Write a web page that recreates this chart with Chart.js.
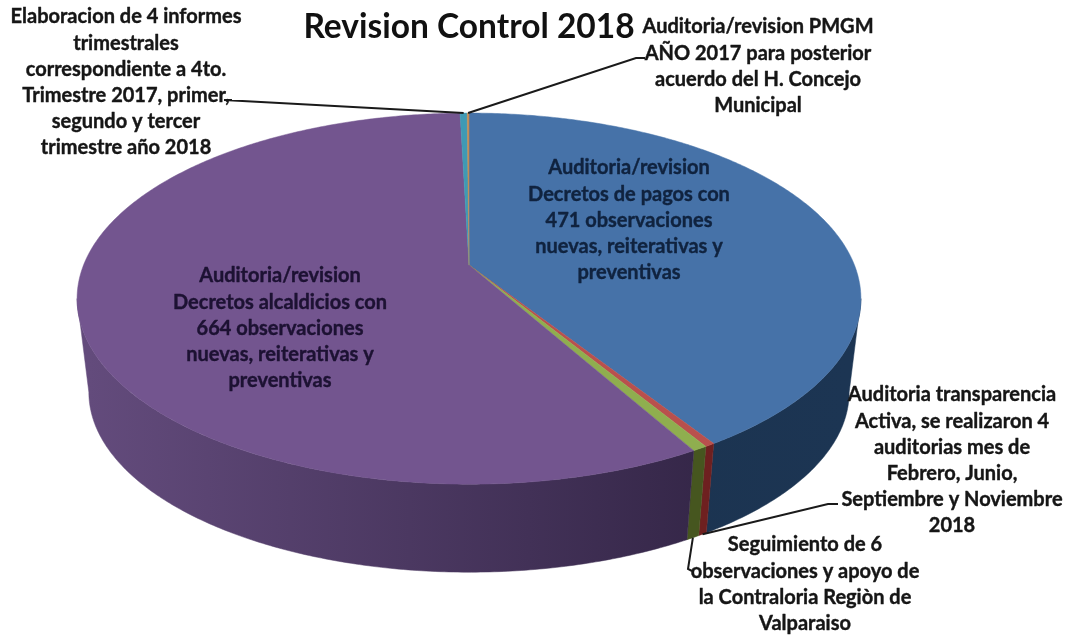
<!DOCTYPE html>
<html>
<head>
<meta charset="utf-8">
<title>Revision Control 2018</title>
<script src="https://cdn.jsdelivr.net/npm/chart.js@4"></script>
<style>
    html, body { margin: 0; padding: 0; background: #fff; }
    #wrap { position: relative; width: 1072px; height: 636px; }
</style>
</head>
<body>
<div id="wrap"><canvas id="myChart" width="1072" height="636"></canvas></div>
<script>
(function () {
    "use strict";

    var titleText = 'Revision Control 2018';
    var categories = [
        'Auditoria/revision Decretos de pagos',
        'Auditoria transparencia Activa',
        'Seguimiento de observaciones',
        'Auditoria/revision Decretos alcaldicios',
        'Elaboracion de 4 informes trimestrales',
        'Auditoria/revision PMGM'
    ];
    var values = [471, 4, 6, 664, 4, 1];
    var topColors = ['#4672a8', '#b9504d', '#8fae4f', '#73558f', '#3f9ab4', '#c28c55'];
    // side wall shade, left end then right end
    var wallColors = [
        ['#1a3049', '#1c3553'],
        ['#6e2020', '#6e2020'],
        ['#46561f', '#46561f'],
        ['#634b7c', '#2a1e3c'],
        ['#1f5a6c', '#1f5a6c'],
        ['#7a5228', '#7a5228']
    ];

    // label text, one entry per line
    var labelLines = [
        ['Auditoria/revision', 'Decretos de pagos con', '471 observaciones', 'nuevas, reiterativas y', 'preventivas'],
        ['Auditoria transparencia', 'Activa, se realizaron 4', 'auditorias mes de', 'Febrero, Junio,', 'Septiembre y Noviembre', '2018'],
        ['Seguimiento de 6', 'observaciones y apoyo de', 'la Contraloria Regiòn de', 'Valparaiso'],
        ['Auditoria/revision', 'Decretos alcaldicios con', '664 observaciones', 'nuevas, reiterativas y', 'preventivas'],
        ['Elaboracion de 4 informes', 'trimestrales', 'correspondiente a 4to.', 'Trimestre 2017, primer,', 'segundo y tercer', 'trimestre año 2018'],
        ['Auditoria/revision PMGM', 'AÑO 2017 para posterior', 'acuerdo del H. Concejo', 'Municipal']
    ];
    // centre x, first line y, text colour
    var labelPlace = [
        [629, 168, '#10233f'],
        [952, 395, '#161616'],
        [805, 545, '#161616'],
        [280, 276, '#1d1233'],
        [126, 17, '#161616'],
        [758, 27, '#161616']
    ];
    // leader elbow points: label end, elbow; null when the label sits on its slice
    var leaderPoints = [
        null,
        [[838, 504], [828, 504]],
        [[692, 571], [688, 569]],
        null,
        [[232, 100], [224, 100]],
        [[645, 58], [636, 58]]
    ];
    var leaderOnWallBottom = [false, true, true, false, false, false];

    var lineStep = 26.2;
    var labelFont = 'bold 20px Lato';

    // pie projection, tilted disc with perspective
    var stretchX = 1.769, stretchY = 0.8238, persp = 0.1806;
    var wallScale = 0.97, wallDrop = 94.6;

    function project(arc, a, isBottom) {
        var r = arc.outerRadius;
        var cx = Math.cos(a), sy = Math.sin(a);
        var w = 1 - persp * sy;
        var s = isBottom ? wallScale : 1;
        return {
            x: arc.x + s * stretchX * r * cx / w,
            y: arc.y + (isBottom ? wallDrop : 0) + s * stretchY * r * sy / w
        };
    }

    function tracePart(ctx, arc, from, to, isBottom) {
        var steps = Math.max(2, Math.ceil(Math.abs(to - from) / 0.01));
        for (var i = 0; i <= steps; i++) {
            var p = project(arc, from + (to - from) * i / steps, isBottom);
            ctx.lineTo(p.x, p.y);
        }
    }

    var piePlugin = {
        id: 'tiltedPie',
        beforeDatasetsDraw: function (chart) {
            var ctx = chart.ctx;
            var arcs = chart.getDatasetMeta(0).data;
            var lo = Math.asin(persp), hi = Math.PI - lo;

            // walls first
            arcs.forEach(function (arc, i) {
                var from = Math.max(arc.startAngle, lo), to = Math.min(arc.endAngle, hi);
                if (to <= from) { return; }
                var g = ctx.createLinearGradient(project(arc, hi, true).x, 0, project(arc, lo, true).x, 0);
                g.addColorStop(0, wallColors[i][0]);
                g.addColorStop(1, wallColors[i][1]);
                ctx.beginPath();
                tracePart(ctx, arc, from, to, false);
                tracePart(ctx, arc, to, from, true);
                ctx.closePath();
                ctx.fillStyle = g;
                ctx.strokeStyle = g;
                ctx.lineWidth = 0.5;
                ctx.fill();
                ctx.stroke();
            });

            // top face
            arcs.forEach(function (arc, i) {
                ctx.beginPath();
                ctx.moveTo(arc.x, arc.y);
                tracePart(ctx, arc, arc.startAngle, arc.endAngle, false);
                ctx.closePath();
                ctx.fillStyle = topColors[i];
                ctx.strokeStyle = topColors[i];
                ctx.lineWidth = 0.5;
                ctx.fill();
                ctx.stroke();
            });
            return false;
        },
        // afterDatasetsDraw does not fire once the datasets draw is cancelled
        afterDraw: function (chart) {
            var ctx = chart.ctx;
            var arcs = chart.getDatasetMeta(0).data;

            ctx.save();
            ctx.strokeStyle = '#1a1a1a';
            ctx.lineWidth = 2;
            arcs.forEach(function (arc, i) {
                if (!leaderPoints[i]) { return; }
                var mid = (arc.startAngle + arc.endAngle) / 2;
                var end = project(arc, mid, leaderOnWallBottom[i]);
                ctx.beginPath();
                ctx.moveTo(leaderPoints[i][0][0], leaderPoints[i][0][1]);
                ctx.lineTo(leaderPoints[i][1][0], leaderPoints[i][1][1]);
                ctx.lineTo(end.x, end.y);
                ctx.stroke();
            });

            ctx.font = labelFont;
            ctx.textAlign = 'center';
            ctx.textBaseline = 'middle';
            ctx.lineWidth = 0.4;
            ctx.lineJoin = 'round';
            labelLines.forEach(function (lines, i) {
                ctx.fillStyle = labelPlace[i][2];
                ctx.strokeStyle = labelPlace[i][2];
                lines.forEach(function (line, n) {
                    var y = labelPlace[i][1] + n * lineStep;
                    ctx.fillText(line, labelPlace[i][0], y);
                    ctx.strokeText(line, labelPlace[i][0], y);
                });
            });
            ctx.restore();
        }
    };

    new Chart(document.getElementById('myChart').getContext('2d'), {
        type: 'pie',
        data: {
            labels: categories,
            datasets: [{
                data: values,
                backgroundColor: topColors,
                borderWidth: 0
            }]
        },
        plugins: [piePlugin],
        options: {
            responsive: false,
            animation: false,
            layout: { padding: { left: 0, right: 134, top: 0, bottom: 153 } },
            plugins: {
                legend: { display: false },
                tooltip: { enabled: false },
                title: {
                    display: true,
                    text: titleText,
                    fullSize: false,
                    color: '#111111',
                    font: { family: 'Lato', size: 33.5, weight: 'bold' },
                    padding: { top: 7, bottom: 0 }
                }
            }
        }
    });
})();
</script>
</body>
</html>
